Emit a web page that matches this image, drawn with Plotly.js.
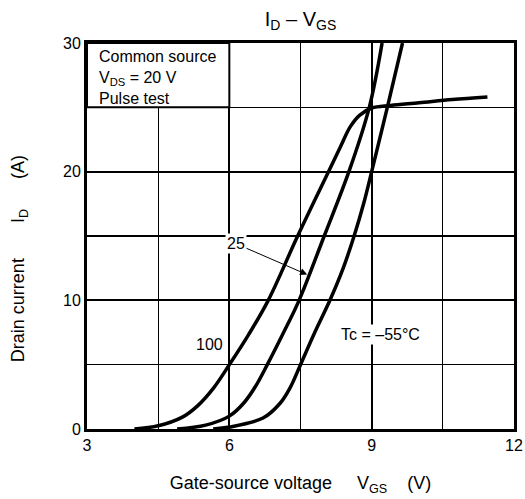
<!DOCTYPE html>
<html>
<head>
<meta charset="utf-8">
<script src="https://cdn.plot.ly/plotly-3.0.1.min.js"></script>
<style>html,body{margin:0;padding:0;background:#fff;}#chart{width:525px;height:499px;}</style>
</head>
<body>
<div id="chart"></div>
<script>
// Gate-source voltage VGS (V) and drain current ID (A)
const vgs100 = [4.0, 4.5, 5.0, 5.33, 5.67, 6.0, 6.4, 6.82, 7.44, 8.09, 8.35, 8.55, 8.75, 9.0, 9.4, 10.0, 10.7, 11.44];
const id100  = [0.0, 0.25, 0.9, 1.8, 3.2, 5.0, 7.3, 10.0, 15.0, 20.0, 22.0, 23.5, 24.4, 24.95, 25.15, 25.35, 25.6, 25.8];

const vgs25 = [4.9, 5.5, 6.0, 6.3, 6.55, 6.8, 7.13, 7.47, 8.0, 8.52, 8.95, 9.22];
const id25  = [0.0, 0.3, 1.0, 2.0, 3.3, 5.0, 7.4, 10.0, 15.0, 20.0, 25.0, 30.0];

const vgsM55 = [5.66, 6.0, 6.71, 7.07, 7.28, 7.5, 7.8, 8.12, 8.4, 8.63, 8.83, 9.0, 9.33, 9.65];
const idM55  = [0.0, 0.15, 0.85, 2.0, 3.2, 5.0, 7.5, 10.0, 12.5, 15.0, 17.5, 20.0, 25.0, 30.0];

const xTicks = [3, 6, 9, 12];
const yTicks = [0, 10, 20, 30];

const FONT = 'Liberation Sans, Arial, sans-serif';
const nb = n => '\u00A0'.repeat(n);

function curve(x, y, name) {
  return {x: x, y: y, name: name, type: 'scatter', mode: 'lines',
          line: {color: '#000', width: 3.5, shape: 'spline', smoothing: 1.0},
          hoverinfo: 'skip', showlegend: false};
}

const data = [curve(vgs100, id100, '100'), curve(vgs25, id25, '25'), curve(vgsM55, idM55, '-55')];

const layout = {
  width: 525, height: 499,
  margin: {l: 87, r: 11, t: 43, b: 70},
  paper_bgcolor: '#fff', plot_bgcolor: '#fff',
  font: {family: FONT, size: 16, color: '#000'},
  showlegend: false,
  title: {text: 'I<sub>D</sub> – V<sub>GS</sub>', font: {family: FONT, size: 20, color: '#000'},
          xref: 'paper', x: 0.5, xanchor: 'center', yref: 'container', y: 0.962, yanchor: 'middle'},
  xaxis: {range: [3, 12], tickmode: 'array', tickvals: xTicks, ticktext: xTicks.map(String),
          showgrid: true, gridcolor: '#000', gridwidth: 2,
          minor: {tickmode: 'linear', tick0: 3, dtick: 1.5, showgrid: true, gridcolor: '#000', gridwidth: 1.2, ticks: ''},
          showline: true, linecolor: '#000', linewidth: 3, mirror: true, zeroline: false,
          ticks: '', tickfont: {family: FONT, size: 16, color: '#000'},
          title: {text: 'Gate-source voltage' + nb(5) + 'V<sub>GS</sub>' + nb(4) + '(V)',
                  font: {family: FONT, size: 18, color: '#000'}, standoff: 24},
          fixedrange: true},
  yaxis: {range: [0, 30], tickmode: 'array', tickvals: yTicks, ticktext: yTicks.map(String),
          showgrid: true, gridcolor: '#000', gridwidth: 2,
          minor: {tickmode: 'linear', tick0: 0, dtick: 5, showgrid: true, gridcolor: '#000', gridwidth: 1.2, ticks: ''},
          showline: true, linecolor: '#000', linewidth: 3, mirror: true, zeroline: false,
          ticks: '', ticklen: 0, tickfont: {family: FONT, size: 16, color: '#000'},
          fixedrange: true},
  shapes: [
    {type: 'rect', xref: 'x', yref: 'y', x0: 3, x1: 6, y0: 25, y1: 30,
     fillcolor: '#fff', line: {color: '#000', width: 2}, layer: 'above'}
  ],
  annotations: [
    {xref: 'paper', yref: 'paper', x: 0, y: 0.44, xshift: -68, textangle: -90,
     xanchor: 'center', yanchor: 'middle', showarrow: false,
     text: 'Drain current' + nb(7) + 'I<sub>D</sub>' + nb(6) + '(A)',
     font: {family: FONT, size: 18, color: '#000'}},
    {xref: 'x', yref: 'y', x: 3.22, y: 27.35, xanchor: 'left', yanchor: 'middle', align: 'left',
     showarrow: false, text: 'Common source<br>V<sub>DS</sub> = 20 V<br>Pulse test',
     font: {family: FONT, size: 16, color: '#000'}},
    {xref: 'x', yref: 'y', x: 7.64, y: 12.0, ax: 6.14, ay: 14.4, axref: 'x', ayref: 'y',
     text: '25', showarrow: true, arrowhead: 2, arrowsize: 1.4, arrowwidth: 1, arrowcolor: '#000',
     bgcolor: '#fff', font: {family: FONT, size: 16, color: '#000'}},
    {xref: 'x', yref: 'y', x: 5.58, y: 6.55, text: '100', showarrow: false,
     font: {family: FONT, size: 16, color: '#000'}},
    {xref: 'x', yref: 'y', x: 9.18, y: 7.35, text: 'Tc = –55°C', showarrow: false,
     bgcolor: '#fff', font: {family: FONT, size: 16, color: '#000'}}
  ]
};

Plotly.newPlot('chart', data, layout, {staticPlot: true, displayModeBar: false});
</script>
</body>
</html>
